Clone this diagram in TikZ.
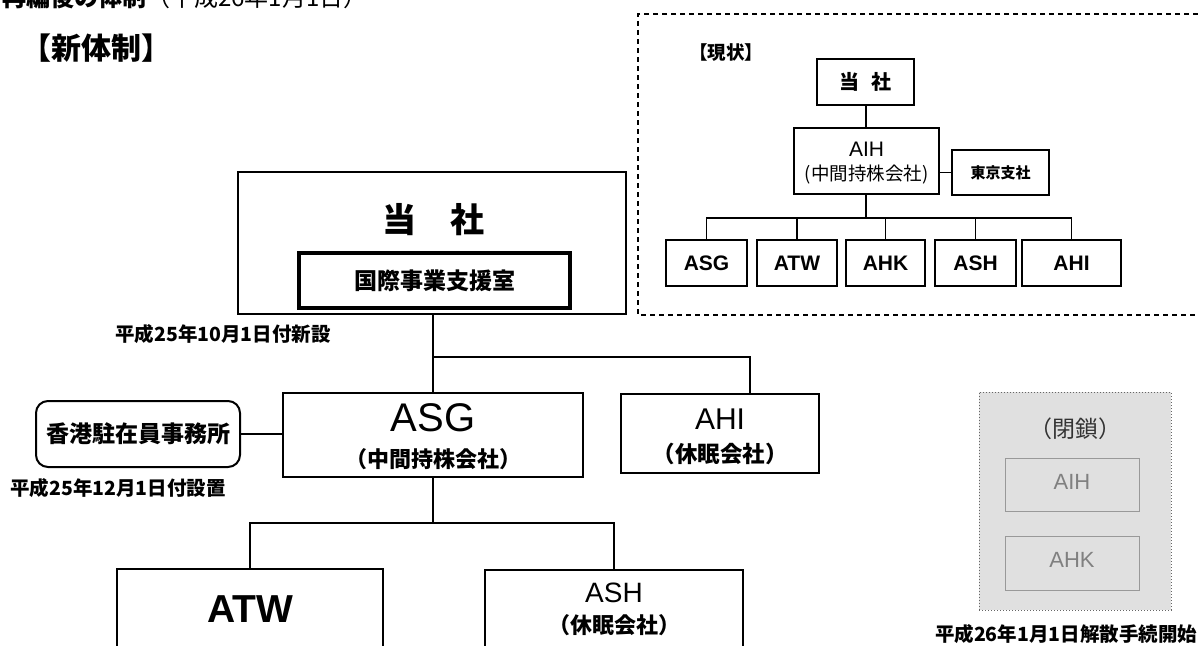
\documentclass[tikz,border=0pt]{standalone}
\usepackage{fontspec}
\setmainfont{Liberation Sans}
\newfontfamily\jp{Noto Sans CJK JP}
\newcommand\fsz[1]{\fontsize{#1pt}{#1pt}\selectfont}
\begin{document}
\begin{tikzpicture}[x=1pt,y=-1pt,
  bx/.style={draw, line width=2pt, inner sep=0pt},
  cn/.style={line width=1.6pt},
  lbl/.style={inner sep=0pt, align=center},
  grayfill/.style={fill=black!12},
  ]
\useasboundingbox (0,0) rectangle (1198,645);
\begin{scope}
\clip (0,0) rectangle (1198,645);

% top line, cut off by the top edge as in the reference
\node[lbl, anchor=base west] (toptitle) at (2,6) {\jp\fsz{24}\textbf{再編後の体制}（平成26年1月1日）};

% title
\node[lbl] (newtitle) at (96,48) {\jp\fsz{30}\textbf{【新体制】}};

% ---------- current structure (dashed) ----------
\draw[line width=1.4pt, dash pattern=on 5pt off 4pt] (1198,14) -- (638,14) -- (638,315) -- (1198,315);
\node[lbl] (curtitle) at (726,53) {\jp\fsz{18.5}\textbf{【現状】}};

\node[bx, minimum width=97, minimum height=46] (ctosha) at (865.5,82) {};
\node[lbl] at (ctosha.center) {\jp\fsz{20}\textbf{当\hspace{0.6em}社}};

\node[bx, minimum width=145, minimum height=66] (caih) at (866.5,161) {};
\node[lbl] (caihA) at (866.5,149.5) {\fsz{21}AIH};
\node[lbl] (caihB) at (866.5,175) {\jp\fsz{18.5}(中間持株会社)};

\node[bx, minimum width=97, minimum height=45] (ctokyo) at (1000.5,172.5) {};
\node[lbl] at (ctokyo.center) {\jp\fsz{15}\textbf{東京支社}};

\node[bx, minimum width=81, minimum height=46] (casg) at (706.5,263) {};
\node[bx, minimum width=80, minimum height=46] (catw) at (797,263) {};
\node[bx, minimum width=79, minimum height=46] (cahk) at (885.5,263) {};
\node[bx, minimum width=81, minimum height=46] (cash) at (975.5,263) {};
\node[bx, minimum width=99, minimum height=46] (cahi) at (1071.5,263) {};
\foreach \n/\t in {casg/ASG,catw/ATW,cahk/AHK,cash/ASH,cahi/AHI}
  \node[lbl] at (\n.center) {\fsz{21}\textbf{\t}};

\coordinate (cbar) at (866,218);
\draw[cn] (ctosha.south -| cbar) -- (caih.north -| cbar);
\draw[cn] (caih.east |- ctokyo.west) -- (ctokyo.west);
\draw[cn] (caih.south -| cbar) -- (cbar);
\draw[cn] (casg.north) -- (casg.north |- cbar) -- (cahi.north |- cbar) -- (cahi.north);
\draw[cn] (catw.north) -- (catw.north |- cbar);
\draw[cn] (cahk.north) -- (cahk.north |- cbar);
\draw[cn] (cash.north) -- (cash.north |- cbar);

% ---------- new structure ----------
\node[bx, minimum width=388, minimum height=142] (tosha) at (432,243) {};
\node[lbl] (toshaT) at (433,220) {\jp\fsz{34}\textbf{当\hspace{1em}社}};
\node[draw, line width=4pt, inner sep=0pt, minimum width=271, minimum height=55] (kokusai) at (434.5,280.5) {};
\node[lbl] at (kokusai.center) {\jp\fsz{23}\textbf{国際事業支援室}};
\node[lbl] (note1) at (223,334) {\jp\fsz{19.5}\textbf{平成25年10月1日付新設}};

\node[bx, minimum width=300, minimum height=84] (asg) at (433,435) {};
\node[lbl] (asgA) at (433,418) {\fsz{40}ASG};
\node[lbl] (asgB) at (433,459) {\jp\fsz{22}\textbf{（中間持株会社）}};

\node[bx, minimum width=198, minimum height=79] (ahi) at (720,433.5) {};
\node[lbl] (ahiA) at (720,419) {\fsz{30}AHI};
\node[lbl] (ahiB) at (720,454) {\jp\fsz{22.5}\textbf{（休眠会社）}};

\node[bx, rounded corners=12pt, minimum width=204, minimum height=66] (hk) at (138,434) {};
\node[lbl] at (hk.center) {\jp\fsz{23}\textbf{香港駐在員事務所}};
\node[lbl] (note2) at (118,488) {\jp\fsz{19.5}\textbf{平成25年12月1日付設置}};

\node[bx, minimum width=266, minimum height=131] (atw) at (250,634.5) {};
\node[lbl] (atwA) at (250,609) {\fsz{39}\textbf{ATW}};

\node[bx, minimum width=258, minimum height=130] (ash) at (614,635) {};
\node[lbl] (ashA) at (614,593) {\fsz{28}ASH};
\node[lbl] (ashB) at (614,625) {\jp\fsz{22}\textbf{（休眠会社）}};

\coordinate (bar1) at (433,357);
\coordinate (bar2) at (433,523);
\draw[cn] (tosha.south -| bar1) -- (asg.north -| bar1);
\draw[cn] (bar1) -- (750,357) coordinate (ahiTop) -- (ahiTop |- ahi.north);
\draw[cn] (hk.east) -- (hk.east -| asg.west);
\draw[cn] (asg.south -| bar2) -- (bar2);
\draw[cn] (atw.north) -- (atw.north |- bar2) -- (ash.north |- bar2) -- (ash.north);

% ---------- closed ----------
\node[draw=black!60, line width=1pt, dotted, grayfill, minimum width=192, minimum height=218] (closed) at (1075,501) {};
\node[lbl] (closedT) at (1075,429) {\jp\fsz{23}\color{black!80}（閉鎖）};
\node[draw=black!40, line width=1pt, grayfill, minimum width=134, minimum height=53] (gaih) at (1072,484.5) {};
\node[lbl, text=black!50] at (1072,482) {\fsz{22}AIH};
\node[draw=black!40, line width=1pt, grayfill, minimum width=134, minimum height=54] (gahk) at (1072,563) {};
\node[lbl, text=black!50] at (1072,560) {\fsz{22}AHK};
\node[lbl] (note3) at (1066,634) {\jp\fsz{19.5}\textbf{平成26年1月1日解散手続開始}};
\end{scope}
\end{tikzpicture}
\end{document}
